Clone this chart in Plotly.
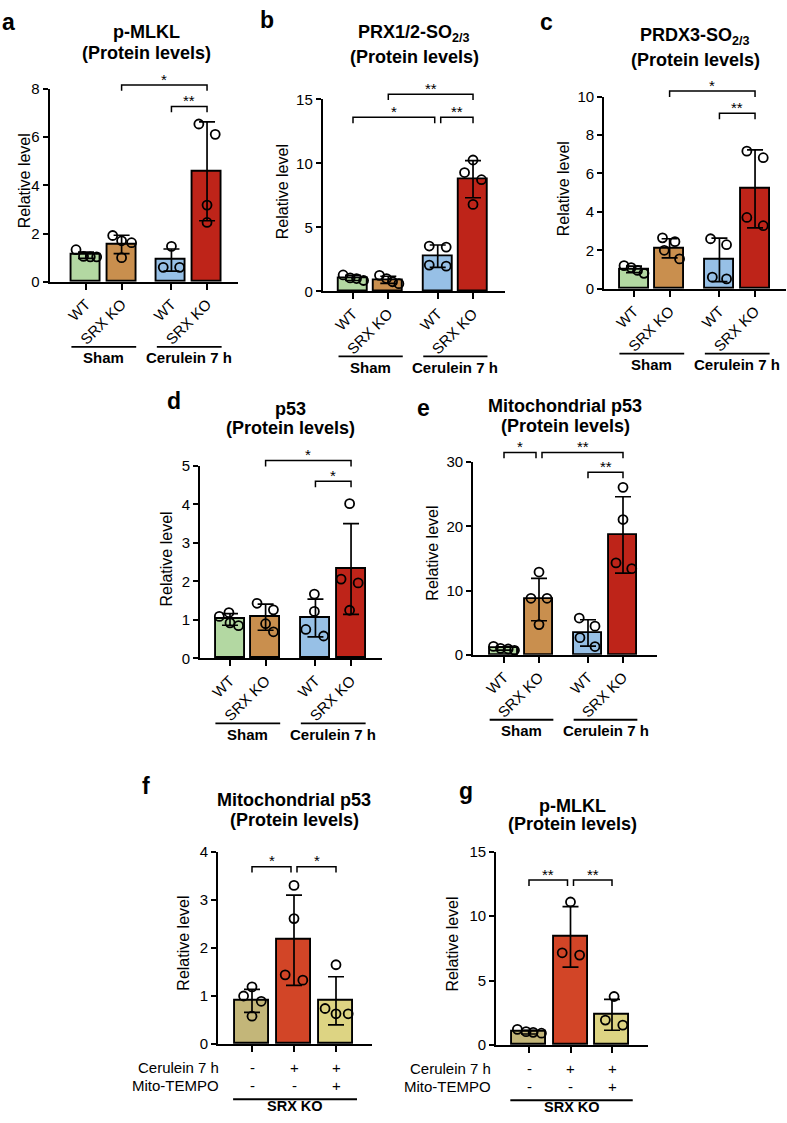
import plotly.graph_objects as go

W, H = 787, 1123
FONT = "Liberation Sans, Arial, Helvetica, sans-serif"

# ---------------- data ----------------
GENOTYPES = ["WT", "SRX KO", "WT", "SRX KO"]
CONDITIONS = ["Sham", "Cerulein 7 h"]
TREAT_GROUP = "SRX KO"
ROW_LABELS = ["Cerulein 7 h", "Mito-TEMPO"]
CERULEIN_ROW = ["-", "+", "+"]
MITO_ROW = ["-", "-", "+"]
COLORS4 = ["#b3d8a2", "#c98f4e", "#97c0e6", "#be2419"]
COLORS3 = ["#c3b679", "#d24527", "#ddd483"]

A_MEAN = [1.1, 1.55, 0.9, 4.58]
A_SD = [0.13, 0.38, 0.46, 2.05]
A_PTS = [[1.33, 1.05, 1.03, 1.03], [1.92, 1.7, 1.62, 1.0], [1.47, 0.6, 0.6], [6.54, 6.11, 3.18, 2.46]]
A_SIG = [(1, 3, 8.16, "*"), (2, 3, 7.27, "**")]

B_MEAN = [1.05, 0.9, 2.75, 8.76]
B_SD = [0.2, 0.28, 0.87, 1.45]
B_PTS = [[1.28, 1.05, 1.0, 0.85], [1.25, 1.0, 0.75, 0.6], [3.54, 3.46, 2.05, 1.97], [10.26, 9.28, 8.72, 6.79]]
B_SIG = [(1, 3, 15.4, "**"), (0, 2, 13.6, "*"), (2, 3, 13.6, "**")]

C_MEAN = [1.01, 2.1, 1.5, 5.2]
C_SD = [0.17, 0.5, 1.13, 2.03]
C_PTS = [[1.2, 1.1, 0.95, 0.8], [2.65, 2.45, 2.0, 1.55], [2.6, 2.29, 0.6, 0.51], [7.16, 6.82, 3.71, 3.28]]
C_SIG = [(1, 3, 10.29, "*"), (2, 3, 9.13, "**")]

D_MEAN = [1.01, 1.07, 1.05, 2.32]
D_SD = [0.15, 0.34, 0.49, 1.18]
D_PTS = [[1.09, 1.19, 0.92, 0.85], [1.43, 1.26, 0.9, 0.69], [1.67, 1.22, 0.75, 0.58], [4.02, 2.06, 1.96, 1.25]]
D_SIG = [(1, 3, 5.14, "*"), (2, 3, 4.6, "*")]

E_MEAN = [0.98, 8.6, 3.4, 18.65]
E_SD = [0.25, 3.3, 2.05, 5.95]
E_PTS = [[1.3, 1.0, 0.9, 0.7], [12.88, 8.79, 8.79, 4.7], [5.72, 4.45, 2.66, 1.28], [26.06, 21.05, 14.3, 13.4]]
E_SIG = [(0, 1, 31.5, "*"), (1, 3, 31.5, "**"), (2, 3, 28.4, "**")]

F_MEAN = [0.9, 2.16, 0.9]
F_SD = [0.24, 0.94, 0.5]
F_PTS = [[1.19, 1.0, 0.89, 0.58], [3.30, 2.61, 1.44, 1.33], [1.65, 0.74, 0.63, 0.63]]
F_SIG = [(0, 1, 3.69, "*"), (1, 2, 3.69, "*")]

G_MEAN = [1.0, 8.4, 2.35]
G_SD = [0.14, 2.35, 1.2]
G_PTS = [[1.22, 1.04, 0.99, 0.92], [11.1, 7.16, 6.98], [3.77, 1.94, 1.55]]
G_SIG = [(0, 1, 12.8, "**"), (1, 2, 12.8, "**")]

# point horizontal jitter (category units)
A_JIT = [[-0.28, -0.07, 0.12, 0.3], [-0.25, 0.0, 0.28, 0.0], [0.0, -0.23, 0.23], [-0.23, 0.23, 0.0, 0.0]]
B_JIT = [[-0.28, -0.08, 0.1, 0.3], [-0.25, -0.05, 0.12, 0.3], [-0.24, 0.24, -0.24, 0.24], [0.0, -0.24, 0.24, 0.0]]
C_JIT = [[-0.28, -0.08, 0.1, 0.28], [-0.2, 0.15, -0.15, 0.28], [-0.25, 0.2, -0.2, 0.2], [-0.23, 0.23, -0.23, 0.23]]
D_JIT = [[-0.3, -0.03, 0.0, 0.24], [-0.24, 0.22, 0.0, 0.22], [-0.03, -0.03, -0.27, 0.23], [-0.04, -0.28, 0.2, -0.04]]
E_JIT = [[-0.3, -0.1, 0.12, 0.3], [0.0, -0.23, 0.23, 0.0], [-0.25, 0.2, -0.23, 0.2], [0.0, 0.0, -0.2, 0.25]]
F_JIT = [[0.0, -0.2, 0.22, 0.0], [0.0, 0.0, -0.21, 0.21], [0.0, -0.26, 0.0, 0.29]]
G_JIT = [[-0.28, -0.07, 0.1, 0.3], [0.0, -0.2, 0.22], [0.05, -0.16, 0.26]]

POS4 = [0, 1, 2.4, 3.4]
POS3 = [0, 1, 2]

# ---------------- layout of panels (pixels) ----------------
panels = [
    dict(letter="a", lpos=(0, 13), title=["p-MLKL", "(Protein levels)"], tx=146, ty=[23, 45],
         L=49.5, R=238, c0=86, u=35.6, y0=277, ytop=81, ymax=8, dtick=2, barw=29,
         mean=A_MEAN, sd=A_SD, pts=A_PTS, jit=A_JIT, sig=A_SIG, ytpos=(24, 175)),
    dict(letter="b", lpos=(258, 11), title=["PRX1/2-SO<sub>2/3</sub>", "(Protein levels)"], tx=414, ty=[25, 49],
         L=322.7, R=505, c0=353, u=35.3, y0=286.7, ytop=91.7, ymax=15, dtick=5, barw=29,
         mean=B_MEAN, sd=B_SD, pts=B_PTS, jit=B_JIT, sig=B_SIG, ytpos=(282, 186)),
    dict(letter="c", lpos=(538, 13), title=["PRDX3-SO<sub>2/3</sub>", "(Protein levels)"], tx=695, ty=[28, 52],
         L=604, R=786, c0=634, u=35.6, y0=284, ytop=89, ymax=10, dtick=2, barw=29,
         mean=C_MEAN, sd=C_SD, pts=C_PTS, jit=C_JIT, sig=C_SIG, ytpos=(563, 183)),
    dict(letter="d", lpos=(165, 398), title=["p53", "(Protein levels)"], tx=290, ty=[406, 425],
         L=200, R=382, c0=230, u=35.6, y0=659.3, ytop=464, ymax=5, dtick=1, barw=29,
         mean=D_MEAN, sd=D_SD, pts=D_PTS, jit=D_JIT, sig=D_SIG, ytpos=(167, 559)),
    dict(letter="e", lpos=(415, 405), title=["Mitochondrial p53", "(Protein levels)"], tx=565, ty=[403, 423],
         L=473, R=657, c0=504, u=35, y0=655.7, ytop=460, ymax=30, dtick=10, barw=28,
         mean=E_MEAN, sd=E_SD, pts=E_PTS, jit=E_JIT, sig=E_SIG, ytpos=(433, 553)),
    dict(letter="f", lpos=(140, 789), title=["Mitochondrial p53", "(Protein levels)"], tx=294, ty=[803, 823],
         L=218, R=372, c0=252, u=42, y0=1051, ytop=855.7, ymax=4, dtick=1, barw=34,
         mean=F_MEAN, sd=F_SD, pts=F_PTS, jit=F_JIT, sig=F_SIG, ytpos=(184, 949), rowx=221),
    dict(letter="g", lpos=(457, 794), title=["p-MLKL", "(Protein levels)"], tx=572, ty=[809, 828],
         L=496, R=648, c0=529, u=41.5, y0=1052, ytop=855.7, ymax=15, dtick=5, barw=34,
         mean=G_MEAN, sd=G_SD, pts=G_PTS, jit=G_JIT, sig=G_SIG, ytpos=(453, 950), rowx=493),
]


def fx(px):
    return px / W


def fy(py):
    return 1 - py / H


fig = go.Figure()
shapes = []
annots = []
axes = {}


def text(x, y, s, size=15, bold=False, xanchor="center", angle=0):
    annots.append(dict(x=fx(x), y=fy(y), xref="paper", yref="paper", text=("<b>%s</b>" % s) if bold else s,
                       showarrow=False, xanchor=xanchor, yanchor="middle", textangle=angle,
                       font=dict(family=FONT, size=size, color="black")))


def hline(x0, x1, y, w=1.8):
    shapes.append(dict(type="line", xref="paper", yref="paper", x0=fx(x0), x1=fx(x1), y0=fy(y), y1=fy(y),
                       line=dict(color="black", width=w)))


for k, p in enumerate(panels):
    idx = "" if k == 0 else str(k + 1)
    xa, ya = "x" + idx, "y" + idx
    four = len(p["mean"]) == 4
    pos = POS4 if four else POS3
    colors = COLORS4 if four else COLORS3
    u, c0 = p["u"], p["c0"]
    scale = (p["y0"] - p["ytop"]) / p["ymax"]

    def xpx(v):
        return c0 + v * u

    def ypx(v):
        return p["y0"] - v * scale

    fig.add_trace(go.Bar(x=pos, y=p["mean"], width=p["barw"] / u,
                         marker=dict(color=colors, line=dict(color="black", width=1.9)),
                         xaxis=xa, yaxis=ya, showlegend=False, hoverinfo="skip"))
    xs, ys = [], []
    for i, (vals, jit) in enumerate(zip(p["pts"], p["jit"])):
        for v, j in zip(vals, jit):
            xs.append(pos[i] + j)
            ys.append(v)
    fig.add_trace(go.Scatter(x=xs, y=ys, mode="markers", cliponaxis=False,
                             marker=dict(symbol="circle-open", size=9, color="black",
                                         line=dict(color="black", width=1.8)),
                             xaxis=xa, yaxis=ya, showlegend=False, hoverinfo="skip"))
    fig.add_trace(go.Scatter(x=pos, y=p["mean"], mode="markers",
                             marker=dict(size=1, color="rgba(0,0,0,0)"),
                             error_y=dict(type="data", array=p["sd"], color="black", thickness=1.7, width=8),
                             xaxis=xa, yaxis=ya, showlegend=False, hoverinfo="skip"))

    xax = dict(domain=[fx(p["L"]), fx(p["R"])],
               range=[(p["L"] - c0) / u, (p["R"] - c0) / u],
               anchor=ya, showline=True, linecolor="black", linewidth=1.8,
               ticks="outside", ticklen=6, tickwidth=1.8, tickcolor="black",
               tickvals=pos, showticklabels=four,
               tickfont=dict(family=FONT, size=15, color="black"),
               showgrid=False, zeroline=False, fixedrange=True)
    if four:
        xax.update(ticktext=GENOTYPES, tickangle=-45)
    axes["xaxis" + idx] = xax
    axes["yaxis" + idx] = dict(domain=[fy(p["y0"]), fy(p["ytop"])], range=[0, p["ymax"]],
                               anchor=xa, showline=True, linecolor="black", linewidth=1.8,
                               ticks="outside", ticklen=5, tickwidth=1.8, tickcolor="black",
                               tick0=0, dtick=p["dtick"],
                               tickfont=dict(family=FONT, size=15, color="black"),
                               showgrid=False, zeroline=False, fixedrange=True)

    # panel letter, title, y title
    annots.append(dict(x=fx(p["lpos"][0]), y=fy(p["lpos"][1]), xref="paper", yref="paper",
                       text="<b>%s</b>" % p["letter"], showarrow=False, xanchor="left", yanchor="middle",
                       font=dict(family=FONT, size=23, color="black")))
    for line, ty in zip(p["title"], p["ty"]):
        text(p["tx"], ty, line, size=18, bold=True)
    text(p["ytpos"][0], p["ytpos"][1], "Relative level", size=16, angle=-90)

    # significance brackets
    for (i, j, yv, lab) in p["sig"]:
        xl, xr = xpx(pos[i]), xpx(pos[j])
        for (i2, j2, yv2, _) in p["sig"]:
            if abs(yv2 - yv) < 1e-9 and (i2, j2) != (i, j):
                if j2 == i:
                    xl += 3
                if i2 == j:
                    xr -= 3
        yt = ypx(yv)
        shapes.append(dict(type="path", xref="paper", yref="paper",
                           path="M %f %f L %f %f L %f %f L %f %f" % (fx(xl), fy(yt + 6), fx(xl), fy(yt),
                                                                      fx(xr), fy(yt), fx(xr), fy(yt + 6)),
                           line=dict(color="black", width=1.5)))
        text((xl + xr) / 2, yt - 6, lab, size=15)

    if four:
        for g in range(2):
            x0 = xpx(pos[2 * g]) - 0.41 * u
            x1 = xpx(pos[2 * g + 1]) + 0.41 * u
            hline(x0, x1, p["y0"] + 66)
            text((x0 + x1) / 2, p["y0"] + 77, CONDITIONS[g], size=15, bold=True)
    else:
        text(p["rowx"], p["y0"] + 24, ROW_LABELS[0], size=15, xanchor="right")
        text(p["rowx"], p["y0"] + 42, ROW_LABELS[1], size=15, xanchor="right")
        for i in range(3):
            text(xpx(pos[i]), p["y0"] + 24, CERULEIN_ROW[i], size=15)
            text(xpx(pos[i]), p["y0"] + 42, MITO_ROW[i], size=15)
        x0 = xpx(pos[0]) - 0.45 * u
        x1 = xpx(pos[2]) + 0.5 * u
        hline(x0, x1, p["y0"] + 56)
        text((x0 + x1) / 2, p["y0"] + 63, TREAT_GROUP, size=14.5, bold=True)

fig.update_layout(width=W, height=H, margin=dict(l=0, r=0, t=0, b=0),
                  paper_bgcolor="white", plot_bgcolor="white", bargap=0,
                  font=dict(family=FONT, color="black"),
                  shapes=shapes, annotations=annots, **axes)
fig.write_html("out.html", config={"displayModeBar": False},
               post_script="document.body.style.margin='0px';")
